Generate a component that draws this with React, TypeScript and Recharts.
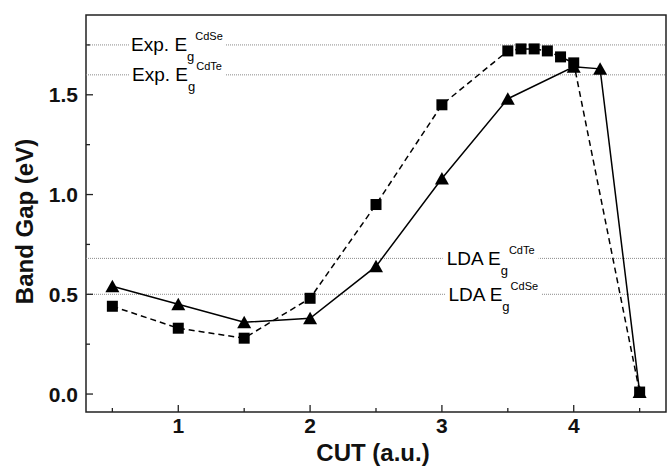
import React from 'react';
import { LineChart, Line, XAxis, YAxis, ReferenceLine, ReferenceDot, ReferenceArea } from 'recharts';

const squareCut = [0.5, 1, 1.5, 2, 2.5, 3, 3.5, 3.6, 3.7, 3.8, 3.9, 4.0, 4.5];
const squareGap = [0.44, 0.33, 0.28, 0.48, 0.95, 1.45, 1.72, 1.73, 1.73, 1.72, 1.69, 1.66, 0.01];
const triangleCut = [0.5, 1, 1.5, 2, 2.5, 3, 3.5, 4.0, 4.2, 4.5];
const triangleGap = [0.54, 0.45, 0.36, 0.38, 0.64, 1.08, 1.48, 1.64, 1.63, 0.01];

const xTicks = [0.5, 1, 1.5, 2, 2.5, 3, 3.5, 4, 4.5];
const yTicks = [0, 0.25, 0.5, 0.75, 1, 1.25, 1.5, 1.75];

const refNames = ['Exp. E', 'Exp. E', 'LDA E', 'LDA E'];
const refMaterials = ['CdSe', 'CdTe', 'CdTe', 'CdSe'];
const refGaps = [1.75, 1.6, 0.68, 0.5];

const FONT = '"Liberation Sans", Arial, sans-serif';
// where the labels sit along each reference line (data units)
const labelAt = [0.99, 0.99, 3.37, 3.39];

const squareData = squareCut.map((x, i) => ({ x, y: squareGap[i] }));
const triangleData = triangleCut.map((x, i) => ({ x, y: triangleGap[i] }));

const SquareDot = (props: any) => {
  const { cx, cy, index } = props;
  if (cx == null || cy == null) return <g key={index} />;
  return <rect key={index} x={cx - 5.5} y={cy - 5.5} width={11} height={11} fill="#000" />;
};

const TriangleDot = (props: any) => {
  const { cx, cy, index } = props;
  if (cx == null || cy == null) return <g key={index} />;
  return <polygon key={index} points={`${cx},${cy - 6.5} ${cx + 7},${cy + 6} ${cx - 7},${cy + 6}`} fill="#000" />;
};

const XTick = (props: any) => {
  const { x, y, payload } = props;
  const major = Number.isInteger(payload.value);
  return (
    <g>
      <line x1={x} y1={y} x2={x} y2={y - (major ? 7 : 4)} stroke="#222" strokeWidth={1.3} />
      {major && (
        <text x={x} y={y + 21} textAnchor="middle" fontSize={21} fontWeight="bold" fontFamily={FONT} fill="#111">
          {payload.value}
        </text>
      )}
    </g>
  );
};

const YTick = (props: any) => {
  const { x, y, payload } = props;
  const major = Math.abs(payload.value * 2 - Math.round(payload.value * 2)) < 1e-6;
  return (
    <g>
      <line x1={x} y1={y} x2={x + (major ? 7 : 4)} y2={y} stroke="#222" strokeWidth={1.3} />
      {major && (
        <text x={x - 8} y={y + 7.5} textAnchor="end" fontSize={21} fontWeight="bold" fontFamily={FONT} fill="#111">
          {payload.value.toFixed(1)}
        </text>
      )}
    </g>
  );
};

const YTitle = (props: any) => {
  const { x, y, height } = props.viewBox;
  const cx = x + 24;
  const cy = y + height / 2 + 8;
  return (
    <text x={cx} y={cy} transform={`rotate(-90 ${cx} ${cy})`} textAnchor="middle" dominantBaseline="central"
      fontSize={24} fontWeight="bold" fontFamily={FONT} fill="#111">
      Band Gap (eV)
    </text>
  );
};

const XTitle = (props: any) => {
  const { x, y, width } = props.viewBox;
  return (
    <text x={x + width / 2 - 3} y={y + 49} textAnchor="middle" fontSize={24} fontWeight="bold" fontFamily={FONT} fill="#111">
      CUT (a.u.)
    </text>
  );
};

const gapLabel = (name: string, mat: string) => (props: any) => {
  const { cx, cy } = props;
  return (
    <g>
      <rect x={cx - 48} y={cy - 2} width={96} height={4} fill="#fff" />
      <text x={cx} y={cy + 6.5} textAnchor="middle" fontSize={19} fontFamily={FONT} fill="#000">
        {name}
        <tspan fontSize={13} dy={10}>g</tspan>
        <tspan fontSize={11} dx={1} dy={-21}>{mat}</tspan>
      </text>
    </g>
  );
};

export default function App() {
  return (
    <div style={{ position: 'absolute', left: 0, top: 0, width: 670, height: 472, background: '#fff' }}>
      <LineChart width={670} height={472} margin={{ top: 15, right: 4, bottom: 0, left: 0 }}>
        <XAxis
          type="number"
          dataKey="x"
          domain={[0.3, 4.7]}
          allowDataOverflow
          ticks={xTicks}
          interval={0}
          height={60}
          tickSize={0}
          tickMargin={0}
          tickLine={false}
          axisLine={false}
          tick={<XTick />}
          label={<XTitle />}
        />
        <YAxis
          type="number"
          dataKey="y"
          domain={[-0.09, 1.9]}
          allowDataOverflow
          ticks={yTicks}
          interval={0}
          width={86}
          tickSize={0}
          tickMargin={0}
          tickLine={false}
          axisLine={false}
          tick={<YTick />}
          label={<YTitle />}
        />
        {refGaps.map((g, i) => (
          <ReferenceLine key={`rl${i}`} y={g} stroke="#8a8a8a" strokeWidth={1} strokeDasharray="1 1" />
        ))}
        {refGaps.map((g, i) => (
          <ReferenceDot key={`rd${i}`} x={labelAt[i]} y={g} r={1} ifOverflow="visible" shape={gapLabel(refNames[i], refMaterials[i])} />
        ))}
        <ReferenceArea x1={0.3} x2={4.7} y1={-0.09} y2={1.9} fill="none" stroke="#222" strokeWidth={1.5} ifOverflow="visible" />
        <Line
          data={squareData}
          dataKey="y"
          type="linear"
          stroke="#000"
          strokeWidth={1.5}
          strokeDasharray="6 4"
          dot={<SquareDot />}
          activeDot={false}
          isAnimationActive={false}
        />
        <Line
          data={triangleData}
          dataKey="y"
          type="linear"
          stroke="#000"
          strokeWidth={1.5}
          dot={<TriangleDot />}
          activeDot={false}
          isAnimationActive={false}
        />
      </LineChart>
    </div>
  );
}
